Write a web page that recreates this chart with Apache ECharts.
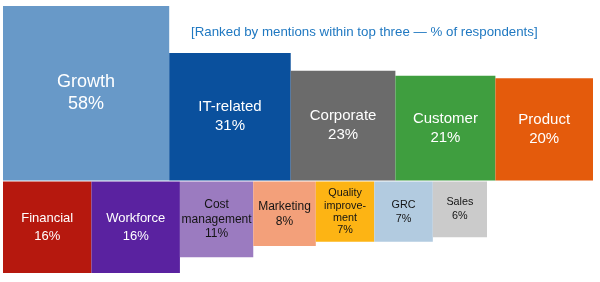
<!DOCTYPE html>
<html>
<head>
<meta charset="utf-8">
<script src="https://cdn.jsdelivr.net/npm/echarts@6/dist/echarts.min.js"></script>
<style>
html,body{margin:0;padding:0;background:#fff;}
#c{width:600px;height:282px;}
</style>
</head>
<body>
<div id="c"></div>
<script>
const subtitle = '[Ranked by mentions within top three \u2014 % of respondents]';

const topCategories = ['Growth', 'IT-related', 'Corporate', 'Customer', 'Product'];
const topValues = [58, 31, 23, 21, 20];
const topColors = ['#6899c8', '#0a509d', '#6b6b6b', '#3f9e3f', '#e45b0c'];

const bottomCategories = ['Financial', 'Workforce', 'Cost\nmanagement', 'Marketing', 'Quality\nimprove-\nment', 'GRC', 'Sales'];
const bottomValues = [16, 16, 11, 8, 7, 7, 6];
const bottomColors = ['#b6180e', '#5a22a0', '#9b7bc0', '#f3a07a', '#fdb414', '#b2cbe0', '#cbcbcb'];
const bottomTextColors = ['#ffffff', '#ffffff', '#141414', '#141414', '#141414', '#141414', '#141414'];

// Square-area layout: side length ~ sqrt(value)
function buildRow(cats, vals, dir) {
  let cum = 0;
  return cats.map((c, i) => {
    const s = Math.sqrt(vals[i]);
    const item = [cum, cum + s, 0, dir * s, vals[i], i];
    cum += s;
    return item;
  });
}
const topData = buildRow(topCategories, topValues, 1);
const bottomData = buildRow(bottomCategories, bottomValues, -1);
const xMaxTop = topData[topData.length - 1][1];
const xMaxBottom = 26.68;
const yMax = Math.sqrt(Math.max(...topValues));
const yMin = -Math.sqrt(Math.max(...bottomValues));

function makeRender(cats, colors, textColors, isTop) {
  return function (params, api) {
    const x0 = api.value(0), x1 = api.value(1), y0 = api.value(2), y1 = api.value(3);
    const v = api.value(4), idx = api.value(5);
    const pA = api.coord([x0, y0]);
    const pB = api.coord([x1, y1]);
    let top = Math.min(pA[1], pB[1]);
    let h = Math.abs(pA[1] - pB[1]);
    if (isTop) { h -= 0.5; } else { top += 0.5; h -= 0.5; }
    let fs, lh;
    if (isTop) { fs = idx === 0 ? 18 : 15; lh = idx === 0 ? 22 : 19; }
    else if (idx < 2) { fs = 13; lh = 18; }
    else if (idx === 2) { fs = 12; lh = 14.5; }
    else if (idx === 3) { fs = 12; lh = 15; }
    else { fs = 10.8; lh = idx === 4 ? 12.3 : 14; }
    return {
      type: 'rect',
      shape: { x: pA[0], y: top, width: pB[0] - pA[0], height: h },
      style: { fill: colors[idx] },
      textContent: {
        style: {
          text: cats[idx] + '\n' + v + '%',
          fill: textColors ? textColors[idx] : '#ffffff',
          fontSize: fs,
          lineHeight: lh,
          fontFamily: 'Liberation Sans, Arial, sans-serif',
          align: 'center'
        }
      },
      textConfig: { position: 'inside' }
    };
  };
}

const chart = echarts.init(document.getElementById('c'), null, { renderer: 'canvas' });
chart.setOption({
  animation: false,
  title: {
    text: subtitle,
    left: 191,
    top: 26,
    padding: 0,
    textStyle: { fontSize: 13.3, fontWeight: 'normal', color: '#1f78c1', fontFamily: 'Liberation Sans, Arial, sans-serif' }
  },
  grid: { left: 3, right: 7, top: 6, bottom: 9 },
  xAxis: [
    { type: 'value', min: 0, max: xMaxTop, show: false },
    { type: 'value', min: 0, max: xMaxBottom, show: false }
  ],
  yAxis: { type: 'value', min: yMin, max: yMax, show: false },
  series: [
    { type: 'custom', xAxisIndex: 0, renderItem: makeRender(topCategories, topColors, null, true), data: topData, z: 2 },
    { type: 'custom', xAxisIndex: 1, renderItem: makeRender(bottomCategories, bottomColors, bottomTextColors, false), data: bottomData, z: 2 }
  ]
});
</script>
</body>
</html>
